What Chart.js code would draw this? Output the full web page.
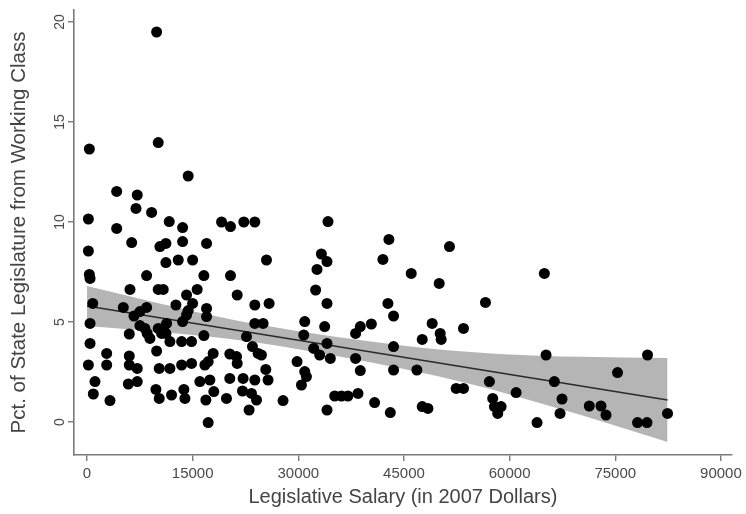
<!DOCTYPE html>
<html>
<head>
<meta charset="utf-8">
<script src="https://cdn.jsdelivr.net/npm/chart.js@4.4.1/dist/chart.umd.min.js"></script>
<style>
  html, body { margin: 0; padding: 0; background: #ffffff; }
  #wrap { width: 746px; height: 514px; }
</style>
</head>
<body>
<div id="wrap"><canvas id="c" width="746" height="514"></canvas></div>
<script>
// ---- Data ----
const salaries = [
  9880, 330, 10110, 14360, 4210, 7130, 6950, 9170, 190, 11670, 19100, 20370, 22260, 23820, 4210, 13570,
  6340, 10350, 11200, 13570, 16970, 190, 11200, 12950, 14990, 330, 430, 8460, 16590, 20370, 6100, 10110,
  10820, 15640, 14130, 21320, 810, 12620, 14990, 14360, 5150, 8460, 7510, 6660, 16970, 16970, 23820, 430,
  13570, 14130, 7510, 8220, 8550, 8930, 10110, 10820, 11300, 10590, 11200, 11770, 23820, 6000, 16590, 22640,
  430, 13430, 14840, 23490, 9880, 2790, 2790, 6000, 6000, 7130, 17910, 17200, 16730, 20270, 21230, 21320,
  24290, 190, 10250, 11770, 13430, 14840, 1130, 890, 3260, 5860, 7130, 9780, 10250, 12000, 13750, 13900,
  16020, 17440, 18000, 16870, 20270, 19800, 22160, 23820, 22070, 23350, 24060, 23010, 17200, 27830, 30440,
  34210, 42860, 25480, 33270, 34070, 32650, 42010, 46030, 50000, 32460, 34070, 42720, 43520, 25850, 25000,
  30910, 30770, 33740, 40370, 38800, 38130, 49000, 47590, 24760, 34070, 32180, 33030, 34540, 43520, 38130,
  29820, 38800, 43520, 46830, 25380, 25700, 30910, 31150, 34070, 35160, 36110, 37040, 38470, 40830, 43060,
  47590, 48400, 52410, 53450, 57130, 57600, 57840, 58310, 58790, 60920, 63890, 51460, 64930, 56570, 53450,
  50140, 50280, 65170, 79580, 75320, 66350, 67440, 67160, 71310, 72970, 73680, 78160, 79500, 82420
];
const pctWorking = [
  19.5, 13.65, 13.97, 12.3, 11.53, 11.35, 10.68, 10.48, 10.15, 10.02, 10.0, 9.77, 10.0, 10.0, 9.68, 9.72,
  8.97, 8.77, 8.93, 9.02, 8.93, 8.55, 7.97, 8.1, 8.1, 7.38, 7.18, 7.32, 7.32, 7.32, 6.63, 6.63,
  6.63, 6.63, 6.35, 6.35, 5.93, 5.85, 5.93, 5.57, 5.73, 5.73, 5.52, 5.3, 5.68, 5.27, 5.85, 4.93,
  5.02, 5.35, 4.82, 4.68, 4.43, 4.18, 4.68, 4.68, 4.93, 4.43, 4.43, 4.02, 4.93, 4.4, 4.32, 4.27,
  3.93, 4.02, 4.02, 3.77, 3.55, 3.43, 2.85, 3.3, 2.85, 2.68, 3.43, 3.02, 2.85, 3.4, 3.27, 2.93,
  3.43, 2.85, 2.68, 2.68, 2.85, 2.93, 2.02, 1.4, 1.07, 1.9, 2.02, 1.63, 1.18, 1.35, 1.63, 1.18,
  2.02, 2.1, 1.52, 1.1, 2.18, 1.18, 2.18, 2.1, 1.55, 1.43, 1.1, 0.6, -0.03, 1.07, 1.85,
  10.02, 9.13, 8.1, 8.4, 8.02, 7.63, 8.13, 7.43, 6.93, 6.6, 5.93, 5.93, 5.3, 5.93, 4.93,
  5.02, 4.35, 4.77, 4.9, 4.77, 4.43, 4.93, 4.13, 3.35, 3.93, 3.68, 3.35, 3.18, 3.77, 3.18,
  3.02, 2.57, 2.6, 2.6, 2.63, 2.1, 2.52, 2.27, 0.6, 1.3, 1.3, 1.3, 1.43, 0.97, 0.47,
  0.77, 0.68, 1.68, 1.68, 2.02, 1.18, 0.77, 0.43, 0.77, 1.47, -0.03, 8.77, 7.43, 5.98, 4.68,
  4.43, 4.13, 3.35, 3.35, 2.47, 2.02, 1.15, 0.43, 0.8, 0.8, 0.35, -0.03, -0.03, 0.43
];

// fitted line end points
const fitX = [0, 82420];
const fitY = [5.8, 1.1];

// confidence band edges
const bandX     = [0,    10000, 20000, 30000, 40000, 50000, 60000, 70000, 82420];
const bandUpper = [6.8,  5.95,  5.16,  4.54,  4.04,  3.63,  3.38,  3.26,  3.2];
const bandLower = [4.8,  4.51,  4.16,  3.64,  3.0,   2.27,  1.38,  0.36,  -1.0];

// ticks
const xTicks = [0, 15000, 30000, 45000, 60000, 75000, 90000];
const yTicks = [0, 5, 10, 15, 20];

// ---- Build datasets ----
const pts = salaries.map((x, i) => ({ x: x, y: pctWorking[i] }));
const fitPts = fitX.map((x, i) => ({ x: x, y: fitY[i] }));
const upPts = bandX.map((x, i) => ({ x: x, y: bandUpper[i] }));
const loPts = bandX.map((x, i) => ({ x: x, y: bandLower[i] }));

const axisColor = '#7a7a7a';
const font = 'Liberation Sans, Arial, Helvetica, sans-serif';

new Chart(document.getElementById('c'), {
  type: 'scatter',
  data: {
    datasets: [
      { label: 'points', data: pts, order: 0, pointRadius: 5.5, pointHoverRadius: 5.5,
        backgroundColor: '#000000', borderColor: '#000000', borderWidth: 0, showLine: false },
      { label: 'fit', data: fitPts, order: 1, type: 'line', showLine: true, pointRadius: 0,
        borderColor: '#2a2a2a', borderWidth: 1.4, fill: false },
      { label: 'upper', data: upPts, order: 2, type: 'line', showLine: true, pointRadius: 0,
        borderWidth: 0, borderColor: 'rgba(0,0,0,0)', tension: 0.35, cubicInterpolationMode: 'monotone',
        fill: '+1', backgroundColor: '#b5b5b5' },
      { label: 'lower', data: loPts, order: 3, type: 'line', showLine: true, pointRadius: 0,
        borderWidth: 0, borderColor: 'rgba(0,0,0,0)', tension: 0.35, cubicInterpolationMode: 'monotone',
        fill: false }
    ]
  },
  options: {
    responsive: false,
    animation: false,
    devicePixelRatio: 1,
    layout: { padding: { left: 0, right: 13, top: 10, bottom: 0 } },
    plugins: { legend: { display: false }, tooltip: { enabled: false } },
    scales: {
      x: {
        type: 'linear', min: -1850, max: 91550,
        afterBuildTicks: (s) => { s.ticks = xTicks.map(v => ({ value: v })); },
        afterFit: (s) => { s.height = 59; },
        border: { display: true, color: axisColor, width: 1.6 },
        grid: { display: true, drawOnChartArea: false, drawTicks: true, tickLength: 6, color: axisColor, lineWidth: 1.4 },
        ticks: { color: '#4a4a4a', font: { family: font, size: 15 }, padding: 4, maxRotation: 0, minRotation: 0,
                 callback: (v) => String(v) },
        title: { display: true, text: 'Legislative Salary (in 2007 Dollars)', color: '#444444',
                 font: { family: font, size: 20 }, padding: { top: 0, bottom: 5 } }
      },
      y: {
        type: 'linear', min: -1.65, max: 20.6,
        afterBuildTicks: (s) => { s.ticks = yTicks.map(v => ({ value: v })); },
        afterFit: (s) => { s.width = 74; },
        border: { display: true, color: axisColor, width: 1.6 },
        grid: { display: true, drawOnChartArea: false, drawTicks: true, tickLength: 6, color: axisColor, lineWidth: 1.4 },
        ticks: { color: '#4a4a4a', font: { family: font, size: 14 }, padding: 0, minRotation: 90, maxRotation: 90,
                 crossAlign: 'center', callback: (v) => String(v) },
        title: { display: true, text: 'Pct. of State Legislature from Working Class', color: '#444444',
                 font: { family: font, size: 20.5 }, padding: { top: 7, bottom: 0 } }
      }
    }
  }
});
</script>
</body>
</html>
